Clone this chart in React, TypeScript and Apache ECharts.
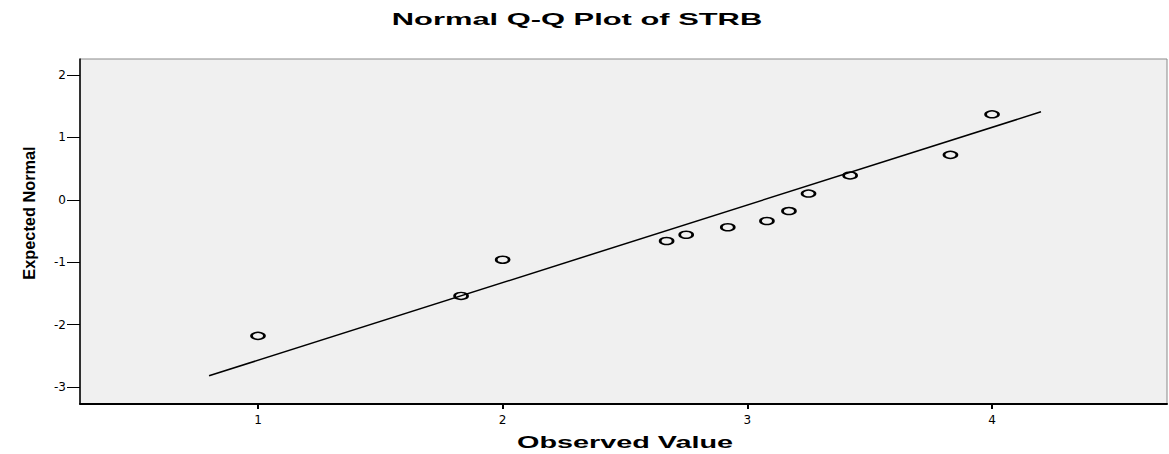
import React, { useEffect, useRef } from "react";
import * as echarts from "echarts";

const xValues = [1, 1.83, 2, 2.67, 2.75, 2.92, 3.08, 3.17, 3.25, 3.42, 3.83, 4];
const yValues = [-2.18, -1.54, -0.96, -0.66, -0.56, -0.44, -0.34, -0.18, 0.1, 0.39, 0.72, 1.37];
const lineX = [0.8, 4.2];
const lineY = [-2.82, 1.41];
const xTicks = [1, 2, 3, 4];
const yTicks = [-3, -2, -1, 0, 1, 2];
const titleText = "Normal Q-Q Plot of STRB";
const xName = "Observed Value";
const yName = "Expected Normal";

export default function App() {
  const ref = useRef<HTMLDivElement>(null);
  useEffect(() => {
    if (!ref.current) return;
    const chart = echarts.init(ref.current, null, { renderer: "svg" });
    const font = '"Liberation Sans", Arial, sans-serif';
    const labelFont = '"DejaVu Sans", sans-serif';
    chart.setOption({
      animation: false,
      backgroundColor: "#ffffff",
      grid: {
        left: 80,
        top: 59,
        right: 2,
        bottom: 50,
        show: true,
        backgroundColor: "#f0f0f0",
        borderColor: "#8a8a8a",
        borderWidth: 1,
      },
      xAxis: {
        type: "value",
        min: 0.2726,
        max: 4.715,
        splitLine: { show: false },
        axisLine: { show: true, onZero: false, lineStyle: { color: "#000", width: 2 } },
        axisTick: { show: true, customValues: xTicks, length: 5, lineStyle: { color: "#000", width: 2 } },
        axisLabel: { customValues: xTicks, margin: 10, fontSize: 12, color: "#000", fontFamily: labelFont },
      },
      yAxis: {
        type: "value",
        min: -3.272,
        max: 2.256,
        splitLine: { show: false },
        axisLine: { show: true, onZero: false, lineStyle: { color: "#000", width: 1.5 } },
        axisTick: { show: true, customValues: yTicks, length: 13, lineStyle: { color: "#000", width: 1 } },
        axisLabel: { customValues: yTicks, margin: 14, fontSize: 12, color: "#000", fontFamily: labelFont },
      },
      graphic: [
        {
          type: "text",
          x: 577,
          y: 19,
          scaleX: 1.93,
          style: { text: titleText, fontSize: 16, fontWeight: "bold", fontFamily: font, align: "center", verticalAlign: "middle", fill: "#000" },
        },
        {
          type: "text",
          x: 625,
          y: 443,
          scaleX: 1.8,
          style: { text: xName, fontSize: 16, fontWeight: "bold", fontFamily: font, align: "center", verticalAlign: "middle", fill: "#000" },
        },
        {
          type: "text",
          x: 29,
          y: 213,
          rotation: Math.PI / 2,
          scaleX: 0.96,
          style: { text: yName, fontSize: 17, fontWeight: "bold", fontFamily: font, align: "center", verticalAlign: "middle", fill: "#000" },
        },
      ],
      series: [
        {
          type: "line",
          data: lineX.map((x, i) => [x, lineY[i]]),
          showSymbol: false,
          symbol: "none",
          lineStyle: { color: "#000", width: 1.5 },
          z: 2,
        },
        {
          type: "scatter",
          data: xValues.map((x, i) => [x, yValues[i]]),
          symbol: "circle",
          symbolSize: [13, 7],
          itemStyle: { color: "rgba(0,0,0,0)", borderColor: "#000", borderWidth: 2, opacity: 1 },
          z: 3,
        },
      ],
    });
    return () => chart.dispose();
  }, []);
  return <div ref={ref} style={{ position: "fixed", left: 0, top: 0, width: 1169, height: 454 }} />;
}
